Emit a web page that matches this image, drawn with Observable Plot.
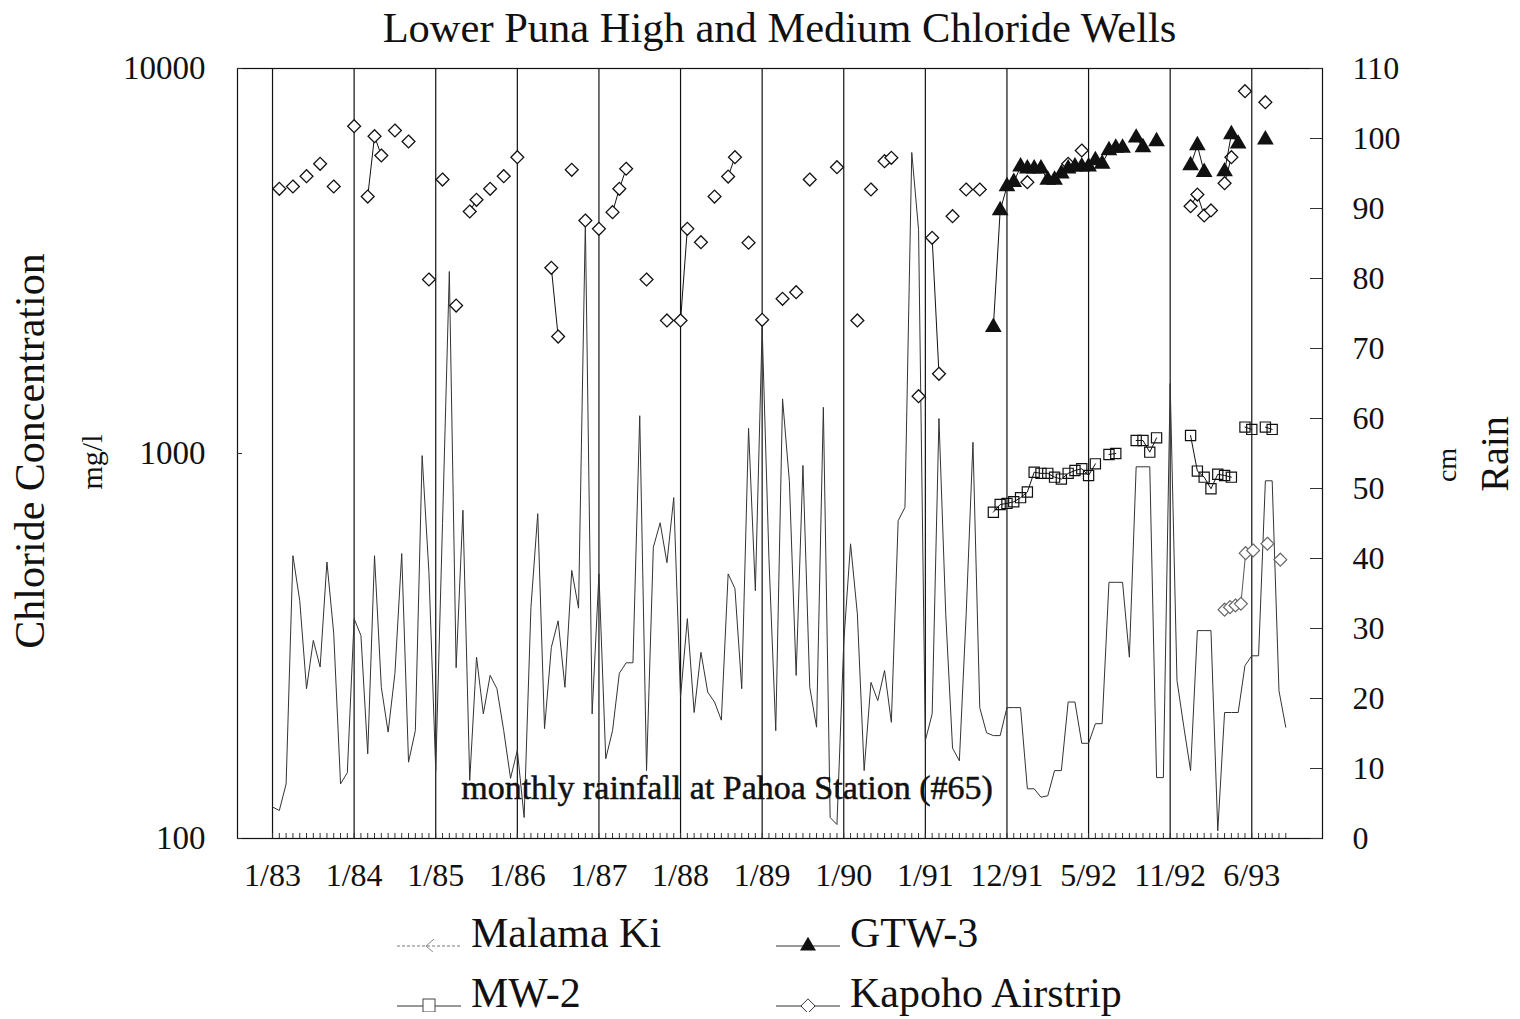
<!DOCTYPE html>
<html>
<head>
<meta charset="utf-8">
<script src="https://cdn.jsdelivr.net/npm/d3@7"></script>
<script src="https://cdn.jsdelivr.net/npm/@observablehq/plot@0.6"></script>
<style>
  body { margin: 0; background: #fff; font-family: "Liberation Serif", "Times New Roman", serif; color: #111; }
  #wrap { position: relative; width: 1520px; height: 1019px; overflow: hidden; background: #fff; }
  #chart { position: absolute; left: 0; top: 0; }
  .title { position: absolute; z-index: 2; left: 237px; width: 1085px; top: 5px; text-align: center; font-size: 42.5px; line-height: 1.1; white-space: nowrap; }
  .rot { position: absolute; z-index: 2; transform: translate(-50%, -50%) rotate(-90deg); white-space: nowrap; line-height: 1; }
  .leg { position: absolute; z-index: 2; display: flex; align-items: flex-end; font-size: 42px; line-height: 1; white-space: nowrap; }
  .leg svg { margin-right: 8px; margin-bottom: 2px; }
</style>
</head>
<body>
<div id="wrap">
  <div id="chart"></div>
  <div class="title">Lower Puna High and Medium Chloride Wells</div>
  <div class="rot" style="left:30px; top:451px; font-size:42px;">Chloride Concentration</div>
  <div class="rot" style="left:92px; top:462px; font-size:30px;">mg/l</div>
  <div class="rot" style="left:1447px; top:465px; font-size:28px;">cm</div>
  <div class="rot" style="left:1495px; top:454px; font-size:40px;">Rain</div>
  <div id="legend"></div>
</div>
<script>
// ---------- data (x = sample index along the category axis; 1/83 = 0) ----------
const xTickLabels = ["1/83","1/84","1/85","1/86","1/87","1/88","1/89","1/90","1/91","12/91","5/92","11/92","6/93"];
const xTickIndex  = [0, 12, 24, 36, 48, 60, 72, 84, 96, 108, 120, 132, 144];

const leftTicks = [100, 1000, 10000];
const rainTicks = [0, 10, 20, 30, 40, 50, 60, 70, 80, 90, 100, 110];

// monthly rainfall at Pahoa Station (#65), cm, one value per sample index
const rainfall = [
  4.5, 4.0, 7.8, 40.4, 34, 21.4, 28.3, 24.5, 39.5, 29.3, 7.8, 9.4,
  31.4, 29, 12.1, 40.4, 21.6, 15.2, 23.6, 40.7, 10.9, 15.4, 54.7, 38,
  9.7, 45, 81, 24.4, 46.9, 8.3, 25.9, 17.8, 23.3, 21.4, 15.4, 8.6,
  12.6, 3.0, 33, 46.4, 15.7, 27.3, 31.1, 21.6, 38.3, 32.9, 88, 17.8,
  37.8, 11.4, 15.4, 23.6, 25.1, 25.1, 60.4, 9.7, 41.6, 45.1, 39.4, 48.7,
  20.2, 31.4, 18, 26.6, 20.9, 19.5, 16.9, 37.8, 35.7, 21.4, 58.6, 35.4,
  73, 40, 15.4, 62.8, 51.1, 23.3, 53.3, 21.6, 15.9, 61.6, 3, 2,
  28, 42.1, 32.1, 9.7, 22.3, 19.7, 24, 16.6, 45.4, 47.3, 98, 87,
  14, 17.8, 60, 32, 12.9, 11.1, 32, 56.6, 18.7, 15.1, 14.7, 14.7,
  18.7, 18.7, 18.7, 7.1, 7.1, 5.9, 6.1, 9.7, 9.7, 19.5, 19.5, 13.6,
  13.6, 16.4, 16.4, 36.6, 36.6, 36.6, 25.9, 53.1, 53.1, 53.1, 8.7, 8.7,
  65, 22.6, 16, 9.7, 29.7, 29.7, 29.7, 1.1, 18, 18, 18, 24.7,
  26.1, 26.1, 51.1, 51.1, 21.1, 15.9
];

// Kapoho Airstrip (mg/l)
const kapohoIdx = [1,3,5,7,9,12,14,15,16,18,20,23,25,27,29,30,32,34,36,41,42,44,46,48,50,51,52,55,58,60,61,63,65,67,68,70,72,75,77,79,83,86,88,90,91,95,97,98,100,102,104,111,117,119,135,136,137,138,140,141,143,146];
const kapohoVal = [4870,4937,5252,5655,4937,7082,4650,6671,5943,6902,6463,2831,5148,2423,4252,4560,4870,5252,5884,3036,2013,5457,4029,3833,4235,4870,5490,2831,2216,2216,3833,3539,4650,5240,5884,3529,2225,2522,2624,5148,5542,2216,4850,5744,5861,1409,3633,1611,4134,4850,4850,5066,5655,6124,4389,4706,4152,4278,5035,5884,8730,8176];

// GTW-3 (mg/l)
const gtwIdx = [106,107,108,109,110,111,112,113,114,115,116,117,118,119,120,121,122,123,124,125,127,128,130,135,136,137,140,141,142,146];
const gtwVal = [2128,4278,4937,5066,5560,5490,5490,5490,5138,5138,5330,5490,5560,5560,5560,5768,5655,6124,6223,6223,6607,6240,6463,5598,6310,5378,5400,6740,6374,6530];

// MW-2 (mg/l)
const mw2Idx = [106,107,108,109,110,111,112,113,114,115,116,117,118,119,120,121,123,124,127,128,129,130,135,136,137,138,139,140,141,143,144,146,147];
const mw2Val = [704,737,742,749,768,794,894,888,888,868,858,888,903,913,877,940,994,1000,1081,1081,1008,1098,1114,900,868,810,883,877,868,1171,1155,1171,1155];

// Malama Ki (mg/l)
const malamaIdx = [140,140.8,141.6,142.4,143.1,144.2,146.3,148.2];
const malamaVal = [393,399,403,407,551,560,583,530];

// ---------- helpers ----------
// rainfall plotted against the right axis: 0..110 cm spans the same height as 100..10000 mg/l
const rainToY = r => 100 * Math.pow(10, r / 55);

// consecutive samples are joined; a gap in the sampling breaks the line
function rows(idx, vals) {
  let seg = 0;
  return idx.map((x, k) => {
    if (k > 0 && x - idx[k - 1] > 1.5) seg++;
    return {x, v: vals[k], seg};
  });
}

const rainRows = rainfall.map((r, i) => ({x: i, v: rainToY(r)}));
const rainTickRows = rainTicks.map(r => ({v: rainToY(r), label: String(r)}));
const kapoho = rows(kapohoIdx, kapohoVal);
const gtw = rows(gtwIdx, gtwVal);
const mw2 = rows(mw2Idx, mw2Val);
const malama = rows(malamaIdx, malamaVal);

const W = 1520, H = 900, mL = 237, mR = 198, mT = 68, mB = 62;
const innerW = W - mL - mR, innerH = H - mT - mB;

const chart = Plot.plot({
  width: W,
  height: H,
  marginLeft: mL,
  marginRight: mR,
  marginTop: mT,
  marginBottom: mB,
  style: {fontFamily: "Liberation Serif, Times New Roman, serif", fontSize: "31px", background: "transparent", color: "#111"},
  x: {type: "linear", domain: [-5.15, 154.4]},
  y: {type: "log", domain: [100, 10000]},
  marks: [
    Plot.frame({stroke: "#111", strokeWidth: 1.2}),
    Plot.ruleX(xTickIndex, {stroke: "#111", strokeWidth: 1.2}),
    // minor category ticks along the bottom, pointing inward
    Plot.tickX(rainRows, {x: "x", stroke: "#333", strokeWidth: 1, insetTop: innerH - 5}),
    // inward ticks on the right (rain) axis and left axis
    Plot.tickY(rainTickRows, {y: "v", stroke: "#333", strokeWidth: 1, insetLeft: innerW - 12}),
    Plot.tickY(leftTicks, {stroke: "#333", strokeWidth: 1, insetRight: innerW - 5}),
    Plot.axisX({ticks: xTickIndex, tickFormat: (d) => xTickLabels[xTickIndex.indexOf(d)], tickSize: 0, tickPadding: 25, fontSize: 32, label: null}),
    Plot.axisY({anchor: "left", ticks: leftTicks, tickFormat: d => String(d), tickSize: 0, tickPadding: 32, fontSize: 33, label: null}),
    // right-hand rain axis labels
    Plot.text(rainTickRows, {y: "v", text: "label", frameAnchor: "right", dx: 30, textAnchor: "start", fontSize: 32, fill: "#111"}),
    // rainfall
    Plot.line(rainRows, {x: "x", y: "v", stroke: "#333", strokeWidth: 1}),
    Plot.text(["monthly rainfall at Pahoa Station (#65)"], {frameAnchor: "bottom", dx: -53, dy: -40, fontSize: 34, fill: "#111", stroke: "#111", strokeWidth: 0.5}),
    // Kapoho Airstrip
    Plot.line(kapoho, {x: "x", y: "v", z: "seg", stroke: "#111", strokeWidth: 1}),
    Plot.dot(kapoho, {x: "x", y: "v", symbol: "diamond2", r: 5.8, stroke: "#111", strokeWidth: 1.3, fill: "white"}),
    // MW-2
    Plot.line(mw2, {x: "x", y: "v", z: "seg", stroke: "#111", strokeWidth: 1}),
    Plot.dot(mw2, {x: "x", y: "v", symbol: "square2", r: 6.5, stroke: "#111", strokeWidth: 1.2, fill: "none"}),
    // Malama Ki
    Plot.line(malama, {x: "x", y: "v", z: "seg", stroke: "#555", strokeWidth: 1}),
    Plot.dot(malama, {x: "x", y: "v", symbol: "diamond2", r: 5.8, stroke: "#666", strokeWidth: 1.2, fill: "white"}),
    // GTW-3
    Plot.line(gtw, {x: "x", y: "v", z: "seg", stroke: "#111", strokeWidth: 1}),
    Plot.dot(gtw, {x: "x", y: "v", symbol: "triangle", r: 6.2, fill: "#111", stroke: "none"})
  ]
});
document.getElementById("chart").appendChild(chart);

// ---------- legend ----------
const legendItems = [
  {name: "Malama Ki", left: 397, top: 912, kind: "malama"},
  {name: "GTW-3", left: 776, top: 912, kind: "gtw"},
  {name: "MW-2", left: 397, top: 972, kind: "mw2"},
  {name: "Kapoho Airstrip", left: 776, top: 972, kind: "kapoho"}
];
const legend = document.getElementById("legend");
for (const it of legendItems) {
  const div = document.createElement("div");
  div.className = "leg";
  div.style.left = it.left + "px";
  div.style.top = it.top + "px";
  const s = d3.create("svg").attr("width", 66).attr("height", 30);
  const dash = it.kind === "malama" ? "3,2" : null;
  s.append("line").attr("x1", 0).attr("x2", 64).attr("y1", 24).attr("y2", 24)
    .attr("stroke", it.kind === "malama" ? "#777" : "#333").attr("stroke-width", 1).attr("stroke-dasharray", dash);
  const g = s.append("g").attr("transform", "translate(32,24)");
  if (it.kind === "gtw") g.append("path").attr("d", d3.symbol(d3.symbolTriangle, 110)()).attr("fill", "#111");
  if (it.kind === "mw2") g.append("rect").attr("x", -6).attr("y", -7).attr("width", 12).attr("height", 13).attr("fill", "white").attr("stroke", "#444");
  if (it.kind === "kapoho") g.append("path").attr("d", d3.symbol(d3.symbolDiamond2, 130)()).attr("fill", "white").attr("stroke", "#333");
  if (it.kind === "malama") g.append("path").attr("d", "M5,-7 L-3,0 L5,7").attr("fill", "none").attr("stroke", "#888");
  div.appendChild(s.node());
  const t = document.createElement("span");
  t.textContent = it.name;
  div.appendChild(t);
  legend.appendChild(div);
}
</script>
</body>
</html>
